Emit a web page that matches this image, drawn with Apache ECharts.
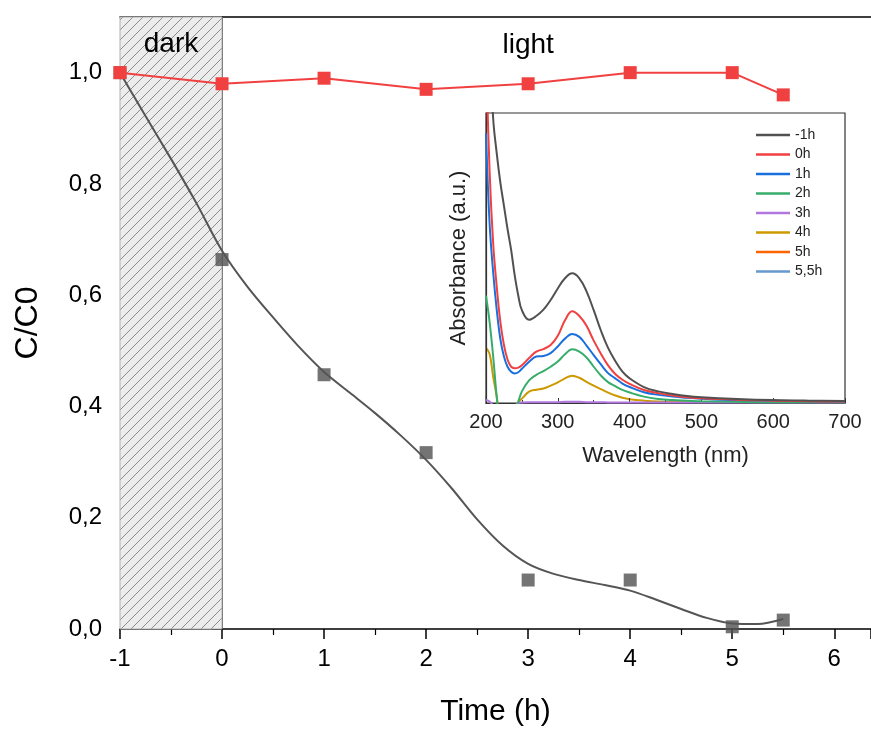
<!DOCTYPE html>
<html>
<head>
<meta charset="utf-8">
<script src="https://cdn.jsdelivr.net/npm/echarts@6/dist/echarts.min.js"></script>
<style>
  html, body { margin: 0; padding: 0; background: #fff; }
  #chart { width: 871px; height: 738px; }
</style>
</head>
<body>
<div id="chart"></div>
<script>
// main plot: C/C0 vs time
const times = [-1, 0, 1, 2, 3, 4, 5, 5.5]
const ratioDark = [1.0, 0.664, 0.457, 0.317, 0.088, 0.088, 0.004, 0.016]
const ratioLight = [1.0, 0.98, 0.99, 0.97, 0.98, 1.0, 1.0, 0.96]
// fitted curve
const fitTimes = [-1, -0.75, -0.5, -0.25, 0, 0.25, 0.5, 0.75, 1, 1.25, 1.5, 1.75, 2, 2.25, 2.5, 2.75, 3, 3.25, 3.5, 3.75, 4, 4.25, 4.5, 4.75, 5, 5.25, 5.5]
const fitValues = [1.0, 0.922, 0.845, 0.765, 0.68, 0.615, 0.56, 0.508, 0.462, 0.425, 0.388, 0.348, 0.304, 0.253, 0.197, 0.15, 0.117, 0.099, 0.088, 0.079, 0.069, 0.053, 0.036, 0.02, 0.01, 0.009, 0.018]

// inset: absorbance spectra
const wavelengths = [200, 205, 210, 215, 220, 225, 230, 235, 240, 245, 250, 260, 270, 280, 290, 300, 310, 320, 330, 340, 350, 360, 370, 380, 390, 400, 420, 440, 460, 480, 500, 550, 600, 650, 700]
const specNames = ['-1h', '0h', '1h', '2h', '3h', '4h', '5h', '5,5h']
const specM1 = [1.6, 1.25, 0.98, 0.86, 0.76, 0.68, 0.6, 0.528, 0.44, 0.37, 0.32, 0.287, 0.3, 0.322, 0.355, 0.395, 0.43, 0.447, 0.43, 0.385, 0.32, 0.25, 0.19, 0.145, 0.108, 0.085, 0.055, 0.04, 0.031, 0.024, 0.02, 0.014, 0.01, 0.008, 0.007]
const spec0 = [1.2, 0.8, 0.55, 0.4, 0.28, 0.2, 0.15, 0.125, 0.12, 0.122, 0.13, 0.155, 0.177, 0.186, 0.2, 0.232, 0.285, 0.316, 0.3, 0.266, 0.215, 0.17, 0.13, 0.1, 0.08, 0.066, 0.045, 0.034, 0.026, 0.02, 0.016, 0.011, 0.008, 0.006, 0.005]
const spec1 = [0.93, 0.62, 0.45, 0.32, 0.22, 0.16, 0.125, 0.108, 0.102, 0.106, 0.118, 0.142, 0.16, 0.162, 0.172, 0.195, 0.222, 0.238, 0.228, 0.198, 0.165, 0.133, 0.103, 0.085, 0.067, 0.055, 0.037, 0.028, 0.022, 0.018, 0.015, 0.01, 0.008, 0.006, 0.005]
const spec2 = [0.37, 0.28, 0.16, 0.02, -0.08, -0.12, -0.12, -0.1, -0.03, 0.005, 0.04, 0.078, 0.097, 0.11, 0.125, 0.143, 0.168, 0.185, 0.177, 0.157, 0.125, 0.095, 0.072, 0.058, 0.045, 0.036, 0.022, 0.014, 0.01, 0.008, 0.006, 0.004, 0.003, 0.003, 0.003]
const spec3 = [0.01, 0.005, -0.01, -0.02, -0.02, -0.02, -0.02, -0.02, -0.01, 0.0, 0.002, 0.003, 0.003, 0.003, 0.003, 0.003, 0.004, 0.004, 0.004, 0.003, 0.003, 0.003, 0.002, 0.002, 0.002, 0.002, 0.002, 0.002, 0.002, 0.002, 0.002, 0.002, 0.002, 0.002, 0.002]
const spec4 = [0.19, 0.17, 0.09, 0.02, -0.08, -0.12, -0.12, -0.1, -0.04, 0.002, 0.015, 0.039, 0.046, 0.05, 0.06, 0.071, 0.085, 0.094, 0.087, 0.073, 0.06, 0.048, 0.036, 0.026, 0.018, 0.013, 0.008, 0.005, 0.004, 0.003, 0.003, 0.002, 0.002, 0.002, 0.002]
const spec5 = [0.025, 0.01, -0.02, -0.03, -0.03, -0.03, -0.03, -0.02, -0.01, -0.002, 0.0, 0.002, 0.003, 0.003, 0.004, 0.004, 0.005, 0.005, 0.005, 0.004, 0.003, 0.003, 0.003, 0.002, 0.002, 0.002, 0.002, 0.002, 0.002, 0.002, 0.002, 0.002, 0.002, 0.002, 0.002]
const spec55 = [0.012, 0.024, 0.015, -0.005, -0.02, -0.02, -0.02, -0.02, -0.01, 0.0, 0.003, 0.006, 0.007, 0.008, 0.01, 0.011, 0.012, 0.013, 0.013, 0.012, 0.011, 0.01, 0.009, 0.009, 0.008, 0.008, 0.007, 0.007, 0.006, 0.006, 0.006, 0.005, 0.005, 0.005, 0.005]
const specValues = [specM1, spec0, spec1, spec2, spec3, spec4, spec5, spec55]
const specColors = ['#515151', '#F14040', '#1A6FDF', '#37AD6B', '#B177DE', '#CC9900', '#FB6501', '#6699CC']

const FONT = 'Liberation Sans, Arial, sans-serif'

function hatchPattern() {
  const c = document.createElement('canvas')
  c.width = 10; c.height = 10
  const g = c.getContext('2d')
  g.fillStyle = '#ececec'
  g.fillRect(0, 0, 10, 10)
  g.strokeStyle = '#8c8c8c'
  g.lineWidth = 1
  g.beginPath()
  g.moveTo(-1, 11); g.lineTo(11, -1)
  g.moveTo(-6, 6); g.lineTo(6, -6)
  g.moveTo(4, 16); g.lineTo(16, 4)
  g.stroke()
  return c
}

const zip = (xs, ys) => xs.map((x, i) => [x, ys[i]])
const comma = v => v.toFixed(1).replace('.', ',')

const chart = echarts.init(document.getElementById('chart'))

const specSeries = specNames.map((name, i) => ({
  name,
  type: 'line',
  xAxisIndex: 2,
  yAxisIndex: 1,
  data: zip(wavelengths, specValues[i]),
  smooth: 0.4,
  showSymbol: false,
  clip: true,
  lineStyle: { color: specColors[i], width: 2 },
  itemStyle: { color: specColors[i] },
  z: 10 - i
}))

chart.setOption({
  animation: false,
  textStyle: { fontFamily: FONT },
  grid: [
    { left: 120, top: 17, right: 0, bottom: 109 },
    { left: 486, top: 113, width: 359, height: 290, show: true, backgroundColor: '#fff', borderColor: '#333', borderWidth: 1.2, z: 5 }
  ],
  legend: {
    data: specNames,
    orient: 'vertical',
    left: 751,
    top: 123,
    itemWidth: 34,
    itemHeight: 2.5,
    itemGap: 5.5,
    icon: 'rect',
    textStyle: { fontSize: 14, color: '#222', fontFamily: FONT },
    z: 20
  },
  xAxis: [
    {
      gridIndex: 0, type: 'value', min: -1, max: 6.36, interval: 1,
      name: 'Time (h)', nameLocation: 'middle', nameGap: 68,
      nameTextStyle: { fontSize: 30, color: '#000', fontFamily: FONT },
      axisLine: { lineStyle: { color: '#000', width: 1.5 } },
      axisTick: { length: 10, lineStyle: { color: '#000', width: 1.5 } },
      minorTick: { show: true, splitNumber: 2, length: 6, lineStyle: { color: '#000', width: 1.2 } },
      axisLabel: { fontSize: 24, color: '#000', margin: 18, showMaxLabel: false, fontFamily: FONT },
      splitLine: { show: false }
    },
    {
      gridIndex: 0, type: 'value', min: -1, max: 6.36, position: 'top',
      axisLine: { lineStyle: { color: '#000', width: 1.5 } },
      axisTick: { show: false }, axisLabel: { show: false }, splitLine: { show: false }
    },
    {
      gridIndex: 1, type: 'value', min: 200, max: 700, interval: 100,
      name: 'Wavelength (nm)', nameLocation: 'middle', nameGap: 42,
      nameTextStyle: { fontSize: 22, color: '#222', fontFamily: FONT },
      axisLine: { lineStyle: { color: '#333', width: 1.2 } },
      axisTick: { inside: true, length: 5, lineStyle: { color: '#333' } },
      minorTick: { show: true, splitNumber: 2, length: 3, lineStyle: { color: '#333' } },
      axisLabel: { fontSize: 20, color: '#222', margin: 9, fontFamily: FONT },
      splitLine: { show: false }, z: 6
    }
  ],
  yAxis: [
    {
      gridIndex: 0, type: 'value', min: 0, max: 1.1, interval: 0.2,
      name: 'C/C0', nameLocation: 'middle', nameGap: 76,
      nameTextStyle: { fontSize: 32, color: '#000', fontFamily: FONT },
      axisLine: { show: true, lineStyle: { color: '#000', width: 1.5 } },
      axisTick: { show: true, length: 10, lineStyle: { color: '#000', width: 1.5 } },
      axisLabel: { fontSize: 24, color: '#000', margin: 18, formatter: comma, showMaxLabel: false, fontFamily: FONT },
      splitLine: { show: false }
    },
    {
      gridIndex: 1, type: 'value', min: 0, max: 1,
      name: 'Absorbance (a.u.)', nameLocation: 'middle', nameGap: 16,
      nameTextStyle: { fontSize: 22, color: '#222', fontFamily: FONT },
      axisLine: { show: true, lineStyle: { color: '#333', width: 1.2 } },
      axisTick: { show: false }, axisLabel: { show: false }, splitLine: { show: false }, z: 6
    }
  ],
  series: [
    {
      name: 'areas', type: 'line', xAxisIndex: 0, yAxisIndex: 0, data: [],
      markArea: {
        silent: true,
        data: [
          [{ xAxis: -1, name: 'dark', itemStyle: { color: { image: hatchPattern(), repeat: 'repeat' }, borderColor: '#b0b0b0', borderWidth: 1, opacity: 1 } }, { xAxis: 0 }],
          [{ xAxis: 0, name: 'light', itemStyle: { color: 'rgba(0,0,0,0)', borderWidth: 0 } }, { xAxis: 6 }]
        ],
        label: { show: true, position: 'insideTop', distance: 14, fontSize: 28, color: '#000', fontFamily: FONT }
      }
    },
    {
      name: 'light-series', type: 'line', xAxisIndex: 0, yAxisIndex: 0,
      data: zip(times, ratioLight),
      symbol: 'rect', symbolSize: 13,
      lineStyle: { color: '#F14040', width: 2 },
      itemStyle: { color: '#F14040' }
    },
    {
      name: 'fit', type: 'line', xAxisIndex: 0, yAxisIndex: 0,
      data: zip(fitTimes, fitValues),
      smooth: 0.3, showSymbol: false,
      lineStyle: { color: '#555', width: 2 }
    },
    {
      name: 'dark-series', type: 'scatter', xAxisIndex: 0, yAxisIndex: 0,
      data: zip(times, ratioDark),
      symbol: 'rect', symbolSize: 13,
      itemStyle: { color: '#515151' }
    },
    ...specSeries
  ]
})
</script>
</body>
</html>
